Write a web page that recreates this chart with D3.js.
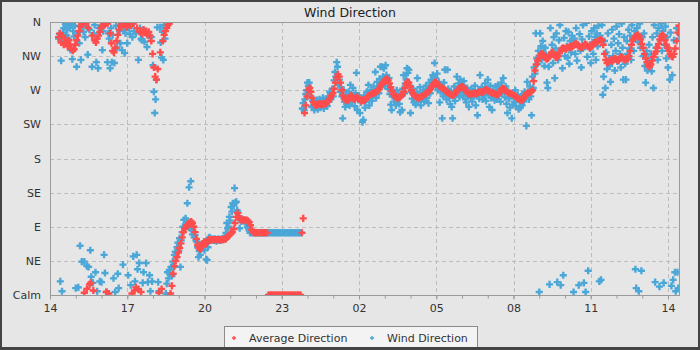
<!DOCTYPE html>
<html>
<head>
<meta charset="utf-8">
<script src="https://cdn.jsdelivr.net/npm/d3@7"></script>
<style>
  body { margin: 0; background: #e6e6e6; }
  svg { display: block; font-family: "DejaVu Sans", sans-serif; }
</style>
</head>
<body>
<svg id="chart" width="700" height="350"></svg>
<script>
// ---- data ----
const chartTitle = "Wind Direction";
const seriesNames = ["Average Direction", "Wind Direction"];
const dirTicks = [0, 45, 90, 135, 180, 225, 270, 315, 360];
const dirLabels = ["Calm", "NE", "E", "SE", "S", "SW", "W", "NW", "N"];

// 24-hour window shown on the time axis (UTC clock hours)
const axisStart = Date.UTC(2012, 5, 10, 14, 0);
const axisHours = 24.466;
// both series are sampled on a regular clock starting 14:20
const seriesStart = Date.UTC(2012, 5, 10, 14, 20);
const avgStepMinutes = 3;
const windStepMinutes = 2;

// averaged direction, degrees (0 = calm), one row per hour from hh:20
const avgDirection = [
  340,345,333,342,330,338,332,328,336,330,325,322,324,330,336,342,348,354,357,359,
  3,358,8,352,14,16,342,6,336,333,338,342,347,352,355,358,356,4,358,2,
  345,332,322,320,326,335,343,350,355,358,356,359,357,353,357,359,355,2,358,6,
  10,352,8,347,4,344,350,346,348,343,347,342,335,318,300,288,284,298,3,320,
  8,335,343,348,352,356,358,2,12,28,38,45,50,56,62,68,76,83,87,90,
  92,94,96,97,95,90,83,74,66,62,60,64,68,70,67,68,72,73,73,73,
  73,73,73,73,73,73,73,73,73,74,74,76,78,80,81,83,87,95,103,108,
  104,100,99,99,99,99,99,98,96,92,86,83,82,82,82,82,82,82,82,82,
  82,82,82,0,0,0,0,0,0,0,0,0,0,0,0,0,0,0,0,0,
  0,0,0,0,0,0,0,0,0,82,101,240,250,262,270,273,268,260,254,251,
  250,251,252,252,251,252,252,252,253,255,257,260,263,266,272,280,287,291,288,280,
  270,263,259,257,258,257,260,263,262,259,258,260,261,259,258,256,257,256,258,260,
  261,263,264,265,266,266,267,268,270,272,275,278,280,282,284,285,283,279,274,269,
  265,262,261,260,260,261,262,264,268,273,278,281,280,275,270,266,264,262,261,260,
  260,261,262,262,264,265,267,268,270,272,275,278,280,281,279,277,275,274,273,272,
  271,269,267,266,265,264,263,264,266,268,270,272,274,275,275,273,270,268,266,265,
  265,265,266,266,265,266,267,268,268,267,268,270,271,270,269,268,267,266,266,265,
  264,264,266,268,271,273,272,270,268,267,266,266,265,264,263,262,260,259,258,257,
  257,259,262,264,266,266,267,268,270,282,296,304,309,312,316,318,318,316,313,311,
  312,314,317,320,320,317,314,313,315,319,322,325,326,325,324,326,327,326,328,327,
  329,331,332,330,328,327,326,327,329,331,330,328,327,326,328,331,333,332,334,335,
  336,337,336,330,318,310,306,307,309,310,308,310,312,311,310,309,312,314,313,311,
  310,312,311,315,322,330,336,339,341,342,343,341,337,331,326,318,312,307,303,301,
  304,309,314,318,321,326,331,337,341,343,341,336,330,326,322,318,315,314,318,325,
  335,346,355
];

// instantaneous wind direction, degrees (0 = calm), one row per hour from hh:20
const windDirection = [
  338,344,18,309,5,346,352,335,357,343,350,338,356,352,323,358,311,348,341,355,9,301,345,10,332,65,310,44,354,347,
  44,340,358,38,317,37,350,59,24,301,16,345,356,30,307,5,299,352,18,353,17,323,348,53,29,358,4,307,345,338,
  299,352,307,343,22,306,4,355,326,28,9,348,332,357,323,40,350,319,345,358,332,26,352,344,13,356,340,51,348,18,
  345,53,34,310,42,352,338,336,16,30,334,348,42,327,17,342,26,5,340,18,303,268,240,258,284,353,17,5,353,333,
  313,347,310,356,338,2,15,30,22,33,28,37,25,44,37,53,57,50,63,69,58,75,37,72,83,90,99,88,101,94,
  121,95,142,88,150,86,80,90,76,79,72,70,63,50,58,53,66,62,68,64,59,70,47,46,63,75,76,73,72,74,
  73,72,74,73,71,73,74,73,72,73,74,73,75,74,76,82,95,88,90,103,98,116,110,121,118,141,122,123,112,109,
  104,88,99,97,99,98,99,97,96,95,90,88,85,82,82,82,82,82,82,82,82,82,82,82,82,82,82,82,82,82,
  82,82,82,82,82,82,82,82,82,82,82,82,82,82,82,82,82,82,82,82,82,82,82,82,82,82,82,82,82,82,
  82,82,82,82,82,82,82,82,82,82,82,82,82,82,246,253,244,258,265,270,280,276,280,268,262,248,256,250,244,253,
  248,257,245,252,258,247,255,250,260,246,254,251,258,249,262,255,268,258,265,272,262,283,294,288,307,301,277,284,268,274,
  262,233,270,255,248,264,252,260,268,250,277,258,255,273,262,249,266,293,244,258,263,240,254,260,228,231,262,247,256,268,
  258,277,250,264,270,256,262,275,268,294,260,281,272,266,285,301,278,301,288,299,276,303,290,282,272,286,265,251,244,262,
  268,255,262,250,270,258,265,252,241,263,244,272,290,266,279,284,299,293,297,276,240,268,259,272,254,264,251,268,286,255,
  262,274,250,266,258,270,255,263,276,260,271,253,280,266,284,274,290,279,306,286,275,292,270,281,254,268,277,233,262,280,
  297,265,258,297,272,260,252,268,248,233,262,275,256,270,288,266,279,261,284,270,277,263,282,268,258,254,273,262,248,267,
  260,272,255,268,262,276,250,264,237,270,259,290,266,274,258,270,263,279,256,272,284,265,248,276,260,244,269,262,257,275,
  268,258,277,263,272,255,280,266,286,270,261,275,252,240,268,259,247,264,233,251,262,255,270,249,258,264,245,256,247,262,
  250,262,255,268,260,223,281,268,258,275,262,237,288,273,300,292,345,312,305,322,4,345,328,310,335,320,302,326,315,280,
  273,301,14,352,318,330,306,340,286,325,345,17,310,336,356,13,322,299,26,339,315,348,328,313,347,305,335,320,342,332,
  4,338,318,352,309,330,13,344,322,300,337,356,16,327,4,359,314,32,341,325,306,348,333,318,352,340,310,345,328,355,
  18,342,20,356,264,288,335,273,320,298,345,312,302,281,330,350,315,338,296,322,354,308,332,344,318,300,358,326,284,340,
  305,284,335,318,350,325,342,310,356,338,322,348,34,9,352,334,5,358,326,32,340,315,345,302,280,322,296,312,330,305,
  318,295,340,273,356,17,326,345,310,352,11,336,358,322,348,16,330,354,312,340,300,325,284,346,12,290,20,336,30,5,
  352,30,9,345,338
];

// ---- drawing ----
const width = 700, height = 350;
const plotArea = { left: 50, right: 680, top: 22, bottom: 295 };
const avgColor = "#ff4c4c";
const windColor = "#4aa7d7";
const textColor = "#333333";

const svg = d3.select("#chart");

// frame and background
svg.append("rect").attr("width", width).attr("height", height).attr("fill", "#444444");
svg.append("rect").attr("x", 2).attr("y", 2).attr("width", width - 4).attr("height", height - 5)
  .attr("fill", "#e6e6e6");

const axisEnd = axisStart + axisHours * 3600e3;
const x = d3.scaleUtc().domain([axisStart, axisEnd]).range([plotArea.left, plotArea.right]);
const y = d3.scaleLinear().domain([0, 360]).range([plotArea.bottom, plotArea.top]);

const majorHours = d3.utcHour.range(new Date(axisStart), new Date(axisEnd), 3);
const allHours = d3.utcHour.range(new Date(axisStart), new Date(axisEnd));

// dashed grid
const grid = svg.append("g").attr("stroke", "#bdbdbd").attr("stroke-width", 1)
  .attr("stroke-dasharray", "4,3").attr("fill", "none");
grid.selectAll("line.v").data(majorHours.slice(1)).join("line")
  .attr("x1", d => Math.round(x(d)) + 0.5).attr("x2", d => Math.round(x(d)) + 0.5)
  .attr("y1", plotArea.top).attr("y2", plotArea.bottom);
grid.selectAll("line.h").data(dirTicks.slice(1, -1)).join("line")
  .attr("x1", plotArea.left).attr("x2", plotArea.right)
  .attr("y1", d => Math.round(y(d)) + 0.5).attr("y2", d => Math.round(y(d)) + 0.5);

// markers
svg.append("clipPath").attr("id", "plotClip").append("rect")
  .attr("x", plotArea.left).attr("y", plotArea.top)
  .attr("width", plotArea.right - plotArea.left).attr("height", plotArea.bottom - plotArea.top);
const marks = svg.append("g").attr("clip-path", "url(#plotClip)");
const crossPath = d3.symbol().type(d3.symbolCross).size(28)();

marks.append("g").selectAll("path").data(windDirection).join("path")
  .attr("d", crossPath)
  .attr("fill", windColor)
  .attr("transform", (d, i) =>
    `translate(${x(seriesStart + i * windStepMinutes * 60000)},${y(d)})`);

marks.append("g").selectAll("path").data(avgDirection).join("path")
  .attr("d", crossPath)
  .attr("fill", avgColor)
  .attr("transform", (d, i) =>
    `translate(${x(seriesStart + i * avgStepMinutes * 60000)},${y(d)})`);

// plot outline
svg.append("rect")
  .attr("x", plotArea.left + 0.5).attr("y", plotArea.top + 0.5)
  .attr("width", plotArea.right - plotArea.left - 1).attr("height", plotArea.bottom - plotArea.top)
  .attr("fill", "none").attr("stroke", "#9a9a9a");

// time axis: minor hourly ticks plus labelled ticks every 3 hours
const xMinor = svg.append("g").attr("transform", `translate(0,${plotArea.bottom + 0.5})`)
  .call(d3.axisBottom(x).tickValues(allHours).tickSize(3).tickFormat(""));
const xMajor = svg.append("g").attr("transform", `translate(0,${plotArea.bottom + 0.5})`)
  .call(d3.axisBottom(x).tickValues(majorHours).tickSize(4).tickPadding(5)
    .tickFormat(d3.utcFormat("%H")));
[xMinor, xMajor].forEach(g => {
  g.select(".domain").remove();
  g.selectAll(".tick line").attr("stroke", "#9a9a9a");
});
xMajor.selectAll(".tick text").attr("fill", textColor)
  .style("font-family", "DejaVu Sans").style("font-size", "11px");

// direction axis
const yAxis = svg.append("g").attr("transform", `translate(${plotArea.left},0)`)
  .call(d3.axisLeft(y).tickValues(dirTicks).tickSize(0).tickPadding(9)
    .tickFormat((d, i) => dirLabels[i]));
yAxis.select(".domain").remove();
yAxis.selectAll(".tick text").attr("fill", textColor)
  .style("font-family", "DejaVu Sans").style("font-size", "11px");

// title
svg.append("text").attr("x", 350).attr("y", 16.5).attr("text-anchor", "middle")
  .attr("fill", "#222").style("font-size", "12.5px").text(chartTitle);

// legend
const legend = svg.append("g");
legend.append("rect").attr("x", 224.5).attr("y", 326.5).attr("width", 253).attr("height", 24)
  .attr("fill", "#f3f3f3").attr("stroke", "#8a8a8a");
const smallCross = d3.symbol().type(d3.symbolCross).size(10)();
const legendItems = [
  { name: seriesNames[0], color: avgColor, mx: 234, tx: 249 },
  { name: seriesNames[1], color: windColor, mx: 372, tx: 387 }
];
legendItems.forEach(it => {
  legend.append("path").attr("d", smallCross).attr("fill", it.color)
    .attr("transform", `translate(${it.mx},338)`);
  legend.append("text").attr("x", it.tx).attr("y", 341.5).attr("fill", textColor)
    .style("font-size", "11px").text(it.name);
});
// frame bottom edge drawn over the legend box
svg.append("rect").attr("x", 0).attr("y", height - 3).attr("width", width).attr("height", 3)
  .attr("fill", "#444444");
</script>
</body>
</html>
